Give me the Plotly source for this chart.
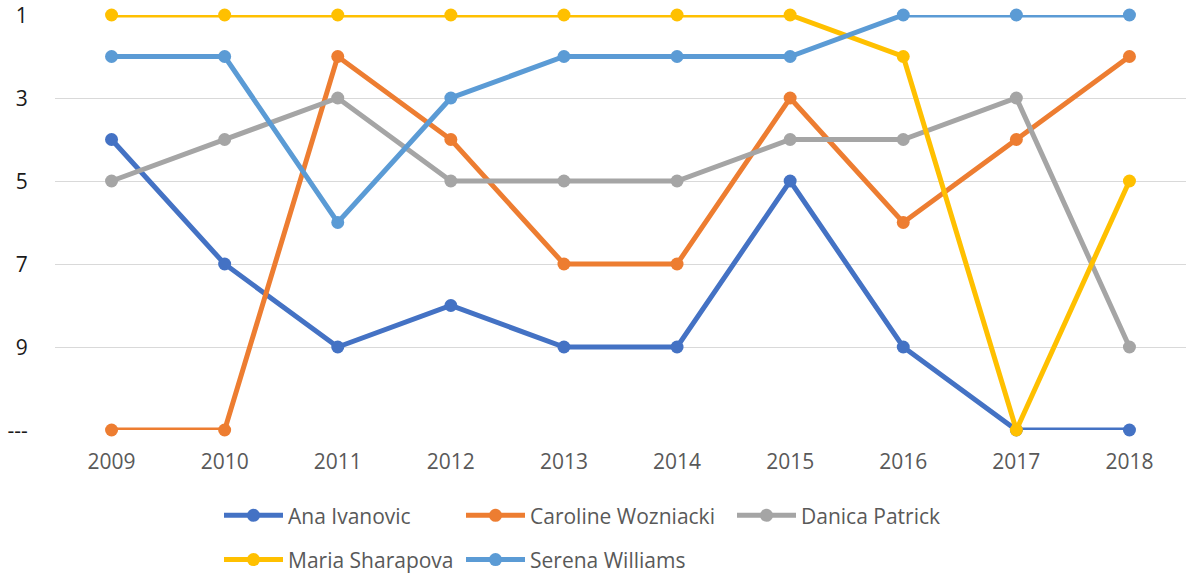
import plotly.graph_objects as go

years = [2009, 2010, 2011, 2012, 2013, 2014, 2015, 2016, 2017, 2018]
ana = [4, 7, 9, 8, 9, 9, 5, 9, 11, 11]
caroline = [11, 11, 2, 4, 7, 7, 3, 6, 4, 2]
danica = [5, 4, 3, 5, 5, 5, 4, 4, 3, 9]
maria = [1, 1, 1, 1, 1, 1, 1, 2, 11, 5]
serena = [2, 2, 6, 3, 2, 2, 2, 1, 1, 1]

y_tickvals = [1, 3, 5, 7, 9, 11]
y_ticktext = ["1", "3", "5", "7", "9", "---"]

series = [
    ("Ana Ivanovic", ana, "#4472C4", "legend"),
    ("Caroline Wozniacki", caroline, "#ED7D31", "legend2"),
    ("Danica Patrick", danica, "#A5A5A5", "legend3"),
    ("Maria Sharapova", maria, "#FFC000", "legend"),
    ("Serena Williams", serena, "#5B9BD5", "legend2"),
]

FONT = "Open Sans"
TXT = "#595959"

W, H = 1186, 575
ML, MT, MB = 55, 15, 145
PW = W - ML

fig = go.Figure()
for name, vals, color, lg in series:
    fig.add_trace(go.Scatter(
        x=years, y=vals, name=name, mode="lines+markers",
        line=dict(color=color, width=5),
        marker=dict(color=color, size=13),
        cliponaxis=False, legend=lg, legendgroup=name,
    ))

legend_common = dict(
    orientation="v", yanchor="top", xanchor="left",
    font=dict(family=FONT, size=21, color=TXT),
    bgcolor="rgba(0,0,0,0)", tracegroupgap=14, itemwidth=59,
)

def lx(abs_x):
    return (abs_x - ML) / PW

fig.update_layout(
    width=W, height=H,
    margin=dict(l=ML, r=0, t=MT, b=MB, autoexpand=False),
    paper_bgcolor="white", plot_bgcolor="white",
    font=dict(family=FONT, size=21, color=TXT),
    xaxis=dict(range=[2008.5, 2018.5], tickmode="array", tickvals=years,
               ticktext=[str(y) for y in years], showgrid=False, zeroline=False,
               showline=False, ticks="outside", ticklen=0, ticklabelstandoff=13,
               automargin=False, ticklabeloverflow="allow",
               tickfont=dict(family=FONT, size=21, color=TXT)),
    yaxis=dict(range=[11, 1], tickmode="array", tickvals=y_tickvals,
               ticktext=y_ticktext, showgrid=True, gridcolor="#D9D9D9",
               gridwidth=1, zeroline=False, showline=False, ticks="outside",
               ticklen=0, ticklabelstandoff=22, automargin=False,
               ticklabeloverflow="allow", ticklabelshift=-1,
               tickfont=dict(family=FONT, size=21, color="#1a1a1a")),
    legend=dict(x=lx(219), y=-0.157, **legend_common),
    legend2=dict(x=lx(461), y=-0.157, **legend_common),
    legend3=dict(x=lx(732), y=-0.157, **legend_common),
)

fig.write_html("out.html",
               config={"displayModeBar": False},
               post_script="document.body.style.margin='0';")
